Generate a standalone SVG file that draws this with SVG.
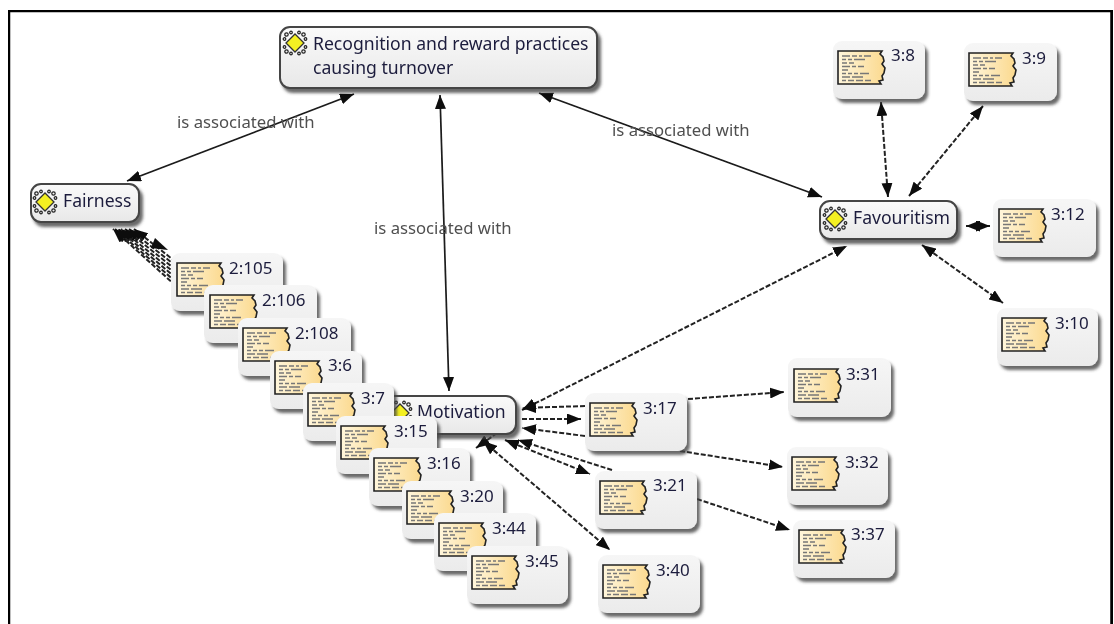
<svg xmlns="http://www.w3.org/2000/svg" xmlns:xlink="http://www.w3.org/1999/xlink" width="1114" height="624" viewBox="0 0 1114 624">
<style>
text{font-family:"Noto Sans","Open Sans",sans-serif;font-size:17px;fill:#1c1c3c}
.c{font-size:17.6px}
.lab{fill:#505050;font-size:16.700px}
.qb{fill:url(#qg);filter:url(#sh)}
.cb{fill:url(#cg);stroke:#444;stroke-width:2;filter:url(#sh)}
.solid{fill:none;stroke:#1a1a1a;stroke-width:1.7;marker-start:url(#ahs);marker-end:url(#ah)}
.dash{fill:none;stroke:#222;stroke-width:2;stroke-dasharray:5 2;marker-start:url(#ahs);marker-end:url(#ah)}
.dashe{fill:none;stroke:#222;stroke-width:2;stroke-dasharray:5 2;marker-end:url(#ah)}
</style>
<defs>
<linearGradient id="qg" x1="0" y1="0" x2="0" y2="1"><stop offset="0" stop-color="#f6f6f6"/><stop offset="1" stop-color="#ebebeb"/></linearGradient>
<linearGradient id="cg" x1="0" y1="0" x2="0" y2="1"><stop offset="0" stop-color="#fafafa"/><stop offset="1" stop-color="#e8e8e8"/></linearGradient>
<linearGradient id="pg" x1="0" y1="0" x2="1" y2="0"><stop offset="0" stop-color="#fff6dc"/><stop offset="1" stop-color="#fbd98e"/></linearGradient>
<filter id="sh" x="-15%" y="-15%" width="135%" height="140%"><feDropShadow dx="3" dy="4" stdDeviation="1.800" flood-color="#444" flood-opacity=".8"/></filter>
<filter id="soft" x="0" y="0" width="100%" height="100%"><feGaussianBlur stdDeviation="0.4"/></filter>
<marker id="ah" viewBox="0 0 14 11" refX="14" refY="5.500" markerUnits="userSpaceOnUse" markerWidth="14" markerHeight="11" orient="auto"><path d="M0 0L14 5.500L0 11Z" fill="#0a0a0a"/></marker>
<marker id="ahs" viewBox="0 0 14 11" refX="0" refY="5.500" markerUnits="userSpaceOnUse" markerWidth="14" markerHeight="11" orient="auto"><path d="M14 0L0 5.500L14 11Z" fill="#0a0a0a"/></marker>
<g id="doc">
<path d="M0 0H44L42 3L45 6L46 10L44 13L47 17L46 22L44 25L45 29L41 30L43 33H0Z" fill="url(#pg)" stroke="#222" stroke-width="1.600"/>
<path d="M4 5H12M14 5H19M21 5H24M26 5H33M4 8.500H8M10 8.500H14M16 8.500H27M4 12H9M11 12H16M4 15.500H12M14 15.500H18M20 15.500H26M4 19H10M4 22.500H8M10 22.500H14M16 22.500H20M22 22.500H31M4 26H12M14 26H25M4 29.500H8M10 29.500H16M18 29.500H25M27 29.500H33" stroke="#777" stroke-width="1.300" fill="none"/>
</g>
<g id="ico" fill="none" stroke="#222" stroke-width="1.200">
<circle cx="3.500" cy="3.500" r="1.700"/><circle cx="8" cy="1.500" r="1.300"/><circle cx="1.500" cy="8" r="1.300"/>
<circle cx="20.500" cy="3.500" r="1.700"/><circle cx="16" cy="1.500" r="1.300"/><circle cx="22.500" cy="8" r="1.300"/>
<circle cx="3.500" cy="20.500" r="1.700"/><circle cx="8" cy="22.500" r="1.300"/><circle cx="1.500" cy="16" r="1.300"/>
<circle cx="20.500" cy="20.500" r="1.700"/><circle cx="16" cy="22.500" r="1.300"/><circle cx="22.500" cy="16" r="1.300"/>
<path d="M3 12L12 3L21 12L12 21Z" fill="#f4f020" stroke="#333" stroke-width="1.300"/>
</g>
</defs>
<rect width="1114" height="624" fill="#fff"/>
<g filter="url(#soft)">
<path d="M8 624V10H1112.500V624" fill="none" stroke="#000" stroke-width="4.500"/>
<g id="connectors">
<path class="solid" d="M127 181L354 94"/>
<path class="solid" d="M440 95L449 391"/>
<path class="solid" d="M539 93L822 197"/>
<path class="dash" d="M881 102L888 197"/>
<path class="dash" d="M983 106L909 196"/>
<path class="dash" d="M922 245L1003 303"/>
<path class="dash" d="M966 226L990 226"/>
<path class="dash" d="M522 410L847 246"/>
<path class="dashe" d="M176 262L134 229"/>
<path class="dashe" d="M176 266L129 229"/>
<path class="dashe" d="M176 270L125 229"/>
<path class="dashe" d="M176 274L121 229"/>
<path class="dashe" d="M176 278L118 229"/>
<path class="dashe" d="M176 282L115 229"/>
<path class="dashe" d="M176 286L113 229"/>
<path d="M155 238L168 250L151 248Z" fill="#0a0a0a"/>
<path class="dashe" d="M585 406L522 408"/>
<path class="dashe" d="M522 419L581 419"/>
<path class="dashe" d="M585 436L522 428"/>
<path class="dashe" d="M612 470L518 440"/>
<path class="dash" d="M505 440L590 474"/>
<path class="dash" d="M483 441L610 550"/>
<path class="dashe" d="M497 433L476 448"/>
<path class="dashe" d="M688 399L784 392"/>
<path class="dashe" d="M680 451L783 467"/>
<path class="dashe" d="M697 499L790 530"/>
</g>
<g id="labels">
<text class="lab" x="177" y="128">is associated with</text>
<text class="lab" x="374" y="234">is associated with</text>
<text class="lab" x="612" y="136">is associated with</text>
</g>
<g id="n-recognition"><rect class="cb" x="280" y="27" width="317" height="61" rx="10"/><use xlink:href="#ico" x="283" y="31"/><text class="c" x="313" y="50">Recognition and reward practices</text><text class="c" x="313" y="74">causing turnover</text></g>
<g id="n-fairness"><rect class="cb" x="31" y="184" width="108" height="38" rx="10"/><use xlink:href="#ico" x="33" y="190"/><text class="c" x="63" y="207">Fairness</text></g>
<g id="n-favouritism"><rect class="cb" x="820" y="201" width="137" height="38" rx="10"/><use xlink:href="#ico" x="823" y="207"/><text class="c" x="853" y="224">Favouritism</text></g>
<g id="n-motivation"><rect class="cb" x="385" y="396" width="131" height="38" rx="10"/><use xlink:href="#ico" x="388" y="401"/><text class="c" x="417" y="418">Motivation</text></g>
<g id="q-8"><rect class="qb" x="833" y="41" width="92" height="58" rx="9"/><use xlink:href="#doc" x="838" y="51"/><text x="891" y="61">3:8</text></g>
<g id="q-9"><rect class="qb" x="964" y="43" width="93" height="58" rx="9"/><use xlink:href="#doc" x="969" y="53"/><text x="1022" y="64">3:9</text></g>
<g id="q-12"><rect class="qb" x="993" y="199" width="103" height="58" rx="9"/><use xlink:href="#doc" x="999" y="209"/><text x="1051" y="220">3:12</text></g>
<g id="q-10"><rect class="qb" x="997" y="308" width="101" height="58" rx="9"/><use xlink:href="#doc" x="1002" y="318"/><text x="1055" y="329">3:10</text></g>
<g id="q-31"><rect class="qb" x="788" y="358" width="103" height="59" rx="9"/><use xlink:href="#doc" x="794" y="369"/><text x="846" y="380">3:31</text></g>
<g id="q-32"><rect class="qb" x="787" y="447" width="101" height="58" rx="9"/><use xlink:href="#doc" x="792" y="457"/><text x="845" y="468">3:32</text></g>
<g id="q-37"><rect class="qb" x="793" y="520" width="102" height="58" rx="9"/><use xlink:href="#doc" x="799" y="530"/><text x="851" y="540">3:37</text></g>
<g id="q-17"><rect class="qb" x="585" y="393" width="102" height="58" rx="9"/><use xlink:href="#doc" x="590" y="403"/><text x="643" y="414">3:17</text></g>
<g id="q-21"><rect class="qb" x="595" y="471" width="102" height="58" rx="9"/><use xlink:href="#doc" x="600" y="481"/><text x="653" y="491">3:21</text></g>
<g id="q-40"><rect class="qb" x="598" y="555" width="102" height="58" rx="9"/><use xlink:href="#doc" x="603" y="565"/><text x="656" y="576">3:40</text></g>
<g id="q-105"><rect class="qb" x="171" y="253" width="112" height="58" rx="9"/><use xlink:href="#doc" x="177" y="263"/><text x="229" y="274">2:105</text></g>
<g id="q-106"><rect class="qb" x="204" y="285" width="113" height="58" rx="9"/><use xlink:href="#doc" x="210" y="295"/><text x="262" y="306">2:106</text></g>
<g id="q-108"><rect class="qb" x="238" y="318" width="113" height="58" rx="9"/><use xlink:href="#doc" x="243" y="328"/><text x="295" y="339">2:108</text></g>
<g id="q-6"><rect class="qb" x="270" y="351" width="92" height="58" rx="9"/><use xlink:href="#doc" x="275" y="361"/><text x="328" y="371">3:6</text></g>
<g id="q-7"><rect class="qb" x="303" y="383" width="91" height="58" rx="9"/><use xlink:href="#doc" x="308" y="393"/><text x="361" y="404">3:7</text></g>
<g id="q-15"><rect class="qb" x="336" y="416" width="101" height="58" rx="9"/><use xlink:href="#doc" x="341" y="426"/><text x="394" y="437">3:15</text></g>
<g id="q-16"><rect class="qb" x="369" y="448" width="101" height="58" rx="9"/><use xlink:href="#doc" x="374" y="458"/><text x="427" y="469">3:16</text></g>
<g id="q-20"><rect class="qb" x="402" y="481" width="101" height="58" rx="9"/><use xlink:href="#doc" x="407" y="491"/><text x="460" y="502">3:20</text></g>
<g id="q-44"><rect class="qb" x="434" y="513" width="102" height="58" rx="9"/><use xlink:href="#doc" x="439" y="523"/><text x="492" y="534">3:44</text></g>
<g id="q-45"><rect class="qb" x="467" y="546" width="101" height="58" rx="9"/><use xlink:href="#doc" x="472" y="556"/><text x="525" y="567">3:45</text></g>
</g>
</svg>
